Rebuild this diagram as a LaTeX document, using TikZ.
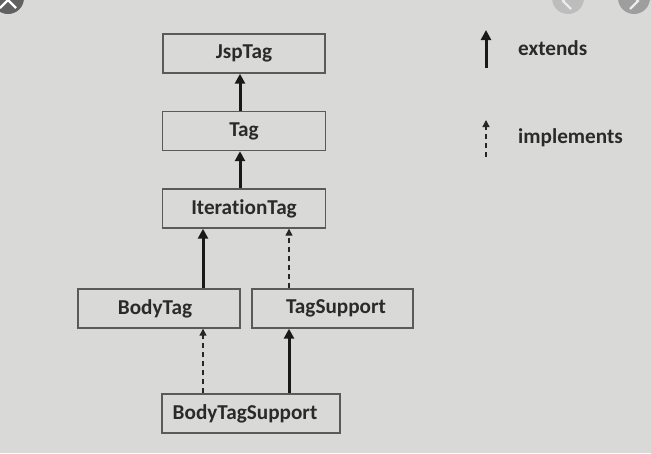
\documentclass[tikz,border=0pt]{standalone}
\usepackage{fontspec}
\setmainfont{Carlito}[RawFeature={-liga;-clig;-dlig}]
\usetikzlibrary{arrows.meta}
\definecolor{bg}{HTML}{D9DAD8}
\definecolor{txt}{HTML}{2A2A2A}
\definecolor{frame}{HTML}{5A5A5A}
\tikzset{
  cls/.style={draw=frame, line width=1.4pt, fill=bg, text=txt, inner sep=0pt,
    font=\fontsize{21.2}{23}\selectfont\bfseries, minimum height=39pt},
  ext/.style={draw=black!90, line width=3pt, -{Triangle[length=10pt,width=10pt]}},
  impl/.style={draw=black!85, line width=1.3pt, dash pattern=on 5pt off 4pt,
    -{Triangle[length=7pt,width=7pt]}},
  lbl/.style={text=txt, font=\fontsize{21.2}{23}\selectfont\bfseries, inner sep=0pt},
}
\begin{document}
\begin{tikzpicture}[x=1pt,y=-1pt]
\useasboundingbox (0,0) rectangle (651,453);
\fill[bg] (0,0) rectangle (651,453);
\begin{scope}
\clip (0,0) rectangle (651,453);
% decorative screen buttons
\fill[black!62] (8,-2) circle (16);
\draw[white, line width=2.2pt] (0,-8) -- (16,8) (16,-8) -- (0,8);
\fill[black!26] (568,-2) circle (16);
\draw[white!92!black, line width=2.2pt] (571,-8) -- (563,1) -- (571,9);
\fill[black!38] (634,-2) circle (16);
\draw[white!92!black, line width=2.2pt] (630,-8) -- (638,1) -- (630,9);
\end{scope}

\node[cls, minimum width=162pt] (jsp) at (244,53.5) {JspTag};
\node[cls, minimum width=163pt] (tag) at (244,131) {Tag};
\node[cls, minimum width=163pt] (iter) at (244,208.5) {IterationTag};
\node[cls, minimum width=162pt] (body) at (159,308.5) {\hspace*{-8pt}BodyTag};
\node[cls, minimum width=161pt] (tsup) at (332.5,308.5) {\hspace*{7pt}TagSupport};
\node[cls, minimum width=178pt] (bts) at (251,413.5) {\hspace*{-12pt}BodyTagSupport};

\draw[ext] ([xshift=-4pt]tag.north) -- ([xshift=-4pt]jsp.south);
\draw[ext] ([xshift=-4pt]iter.north) -- ([xshift=-4pt]tag.south);
\draw[ext] ([xshift=44pt]body.north) -- ([xshift=-41pt]iter.south);
\draw[impl] ([xshift=-43.5pt]tsup.north) -- ([xshift=45pt]iter.south);
\draw[impl] ([xshift=-48pt]bts.north) -- ([xshift=44pt]body.south);
\draw[ext] ([xshift=38pt]bts.north) -- ([xshift=-43.5pt]tsup.south);

% legend
\coordinate (e1) at (486,68);
\coordinate (e2) at (486,30);
\coordinate (i1) at (486,157);
\coordinate (i2) at (486,120);
\draw[ext] (e1) -- (e2);
\draw[impl] (i1) -- (i2);
\node[lbl, anchor=west] (lext) at (518,48) {extends};
\node[lbl, anchor=west] (limp) at (518,138) {implements};
\end{tikzpicture}
\end{document}
